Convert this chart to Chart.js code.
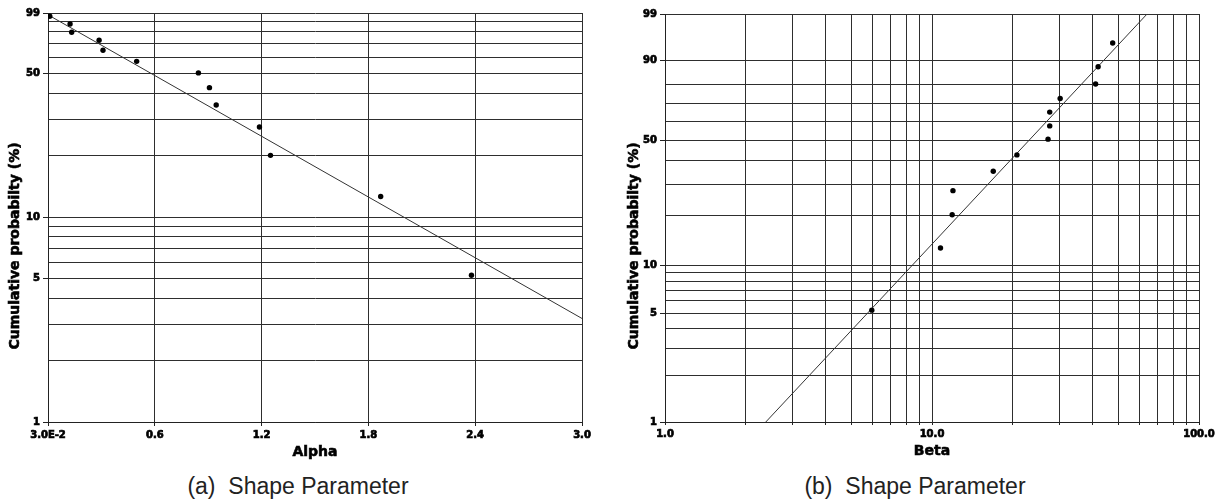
<!DOCTYPE html>
<html>
<head>
<meta charset="utf-8">
<script src="https://cdn.jsdelivr.net/npm/chart.js@4/dist/chart.umd.min.js"></script>
<style>
	body { margin: 0; background: #fff; }
	#wrap { position: relative; width: 1221px; height: 503px; overflow: hidden; }
	#chart-a { position: absolute; left: 0; top: 0; }
	#chart-b { position: absolute; left: 610px; top: 0; }
	.caption {
		position: absolute; top: 473px; height: 26px; line-height: 26px;
		text-align: center; white-space: pre;
		font-family: "Liberation Sans", Arial, sans-serif; font-size: 23px; color: #222;
	}
</style>
</head>
<body>
<div id="wrap">
	<canvas id="chart-a" width="600" height="470"></canvas>
	<canvas id="chart-b" width="611" height="470"></canvas>
	<div class="caption" style="left:0; width:596px;">(a)  Shape Parameter</div>
	<div class="caption" style="left:610px; width:610px;">(b)  Shape Parameter</div>
</div>
<script>
	// probability grid lines shared by both panels (%)
	const probGrid = [1, 2, 3, 4, 5, 6, 7, 8, 9, 10, 20, 30, 40, 50, 60, 70, 80, 90, 99];
	const probLabelsA = [1, 5, 10, 50, 99];
	const probLabelsB = [1, 5, 10, 50, 90, 99];

	// (a) Alpha
	const alphaTicks = [0, 0.6, 1.2, 1.8, 2.4, 3.0];
	const alphaTickLabels = ['3.0E-2', '0.6', '1.2', '1.8', '2.4', '3.0'];
	const alphaValues = [0.01, 0.124, 0.133, 0.287, 0.309, 0.498, 0.845, 0.907, 0.945, 1.188, 1.25, 1.869, 2.379];
	const alphaProb = [95.4, 87.5, 79.7, 72.9, 65.1, 57.5, 50.5, 42.8, 35.2, 27.5, 20.0, 12.6, 5.2];
	const alphaFitX = [0, 3.0];
	const alphaFitY = [97, 3.2];

	// (b) Beta
	const betaGrid = [1, 2, 3, 4, 5, 6, 7, 8, 9, 10, 20, 30, 40, 50, 60, 70, 80, 90, 100];
	const betaLabels = [1, 10, 100];
	const betaValues = [5.95, 10.76, 11.9, 11.98, 16.96, 20.8, 27.2, 27.6, 27.6, 30.2, 41.0, 41.9, 47.5];
	const betaProb = [5.25, 12.8, 20.2, 27.7, 35.2, 42.6, 50.5, 57.6, 65.2, 72.6, 80.0, 87.6, 94.9];
	const betaFitX = [2.385, 63.9];
	const betaFitY = [1, 99];

	const GRID = '#2e2e2e';
	const AXIS = '#222';

	Chart.defaults.font.family = '"DejaVu Sans", Verdana, sans-serif';
	Chart.defaults.color = '#000';

	// Weibull probability paper: ln(-ln(1 - F))
	const weibullT = p => Math.log(-Math.log(1 - p / 100));

	class WeibullScale extends Chart.Scale {
		static id = 'weibull';
		static defaults = {};

		determineDataLimits() {
			this.min = this.options.min;
			this.max = this.options.max;
		}

		buildTicks() {
			return probGrid.map(v => ({ value: v }));
		}

		getLabelForValue(value) {
			return String(value);
		}

		configure() {
			super.configure();
			this._tStart = weibullT(this.min);
			this._tRange = weibullT(this.max) - this._tStart;
		}

		getPixelForValue(value) {
			return this.getPixelForDecimal((weibullT(value) - this._tStart) / this._tRange);
		}

		getValueForPixel(pixel) {
			const t = this._tStart + this.getDecimalForPixel(pixel) * this._tRange;
			return 100 * (1 - Math.exp(-Math.exp(t)));
		}
	}
	Chart.register(WeibullScale);

	// heavy axis titles, placed like the original (y title sits a bit below the plot centre)
	const axisTitlePlugin = {
		id: 'axisTitles',
		afterDraw(chart, args, opts) {
			const ctx = chart.ctx;
			const area = chart.chartArea;
			ctx.save();
			ctx.font = 'bold 14px "DejaVu Sans", Verdana, sans-serif';
			ctx.textAlign = 'center';
			ctx.textBaseline = 'middle';
			ctx.fillStyle = '#000';
			ctx.strokeStyle = '#000';
			ctx.lineWidth = 0.6;

			// x title
			const xx = (area.left + area.right) / 2;
			ctx.fillText(opts.xText, xx, opts.xY);
			ctx.strokeText(opts.xText, xx, opts.xY);

			// y title
			ctx.translate(opts.yX, opts.yY);
			ctx.rotate(-Math.PI / 2);
			ctx.fillText(opts.yText, 0, 0);
			ctx.strokeText(opts.yText, 0, 0);
			ctx.restore();
		}
	};

	function toPoints(xs, ys) {
		return xs.map((x, i) => ({ x: x, y: ys[i] }));
	}

	function tickOptions(callback) {
		return {
			autoSkip: false,
			maxRotation: 0,
			padding: 3,
			font: { size: 10, weight: 'bold' },
			textStrokeColor: '#000',
			textStrokeWidth: 0.7,
			callback: callback
		};
	}

	function datasets(xs, ys, fitX, fitY) {
		return [
			{
				data: toPoints(xs, ys),
				backgroundColor: '#000',
				borderWidth: 0,
				pointRadius: 2.7,
				pointHoverRadius: 2.7
			},
			{
				data: toPoints(fitX, fitY),
				showLine: true,
				borderColor: '#333',
				borderWidth: 1,
				pointRadius: 0,
				pointHoverRadius: 0
			}
		];
	}

	const commonPlugins = {
		legend: { display: false },
		tooltip: { enabled: false }
	};

	// (a) Alpha: linear x, log y
	new Chart(document.getElementById('chart-a'), {
		type: 'scatter',
		data: { datasets: datasets(alphaValues, alphaProb, alphaFitX, alphaFitY) },
		plugins: [axisTitlePlugin],
		options: {
			responsive: false,
			animation: false,
			layout: { padding: { left: 0, top: 13, right: 18, bottom: 0 } },
			plugins: Object.assign({}, commonPlugins, {
				axisTitles: { xText: 'Alpha', xY: 452, yText: 'Cumulative probabilty (%)', yX: 15, yY: 246 }
			}),
			scales: {
				x: {
					type: 'linear',
					min: 0,
					max: 3.0,
					afterBuildTicks: axis => { axis.ticks = alphaTicks.map(v => ({ value: v })); },
					afterFit: axis => { axis.height = 48; },
					ticks: tickOptions((v, i) => alphaTickLabels[i]),
					grid: { color: GRID, lineWidth: 1, tickLength: 4, tickColor: AXIS },
					border: { color: AXIS, width: 1 }
				},
				y: {
					type: 'logarithmic',
					min: 1,
					max: 99,
					afterBuildTicks: axis => { axis.ticks = probGrid.map(v => ({ value: v })); },
					afterFit: axis => { axis.width = 48; },
					ticks: tickOptions(v => probLabelsA.includes(v) ? String(v) : ''),
					grid: {
						color: GRID,
						lineWidth: 1,
						tickLength: 5,
						tickColor: ctx => ctx.tick && probLabelsA.includes(ctx.tick.value) ? AXIS : 'rgba(0,0,0,0)'
					},
					border: { color: AXIS, width: 1 }
				}
			}
		}
	});

	// (b) Beta: log x, Weibull y
	new Chart(document.getElementById('chart-b'), {
		type: 'scatter',
		data: { datasets: datasets(betaValues, betaProb, betaFitX, betaFitY) },
		plugins: [axisTitlePlugin],
		options: {
			responsive: false,
			animation: false,
			layout: { padding: { left: 0, top: 14, right: 22, bottom: 0 } },
			plugins: Object.assign({}, commonPlugins, {
				axisTitles: { xText: 'Beta', xY: 451, yText: 'Cumulative probabilty (%)', yX: 24, yY: 246 }
			}),
			scales: {
				x: {
					type: 'logarithmic',
					min: 1,
					max: 100,
					afterBuildTicks: axis => { axis.ticks = betaGrid.map(v => ({ value: v })); },
					afterFit: axis => { axis.height = 48; },
					ticks: tickOptions(v => betaLabels.includes(v) ? v.toFixed(1) : ''),
					grid: { color: GRID, lineWidth: 1, tickLength: 3, tickColor: AXIS },
					border: { color: AXIS, width: 1 }
				},
				y: {
					type: 'weibull',
					min: 1,
					max: 99,
					afterFit: axis => { axis.width = 55; },
					ticks: tickOptions(v => probLabelsB.includes(v) ? String(v) : ''),
					grid: {
						color: GRID,
						lineWidth: 1,
						tickLength: 5,
						tickColor: ctx => ctx.tick && probLabelsB.includes(ctx.tick.value) ? AXIS : 'rgba(0,0,0,0)'
					},
					border: { color: AXIS, width: 1 }
				}
			}
		}
	});
</script>
</body>
</html>
